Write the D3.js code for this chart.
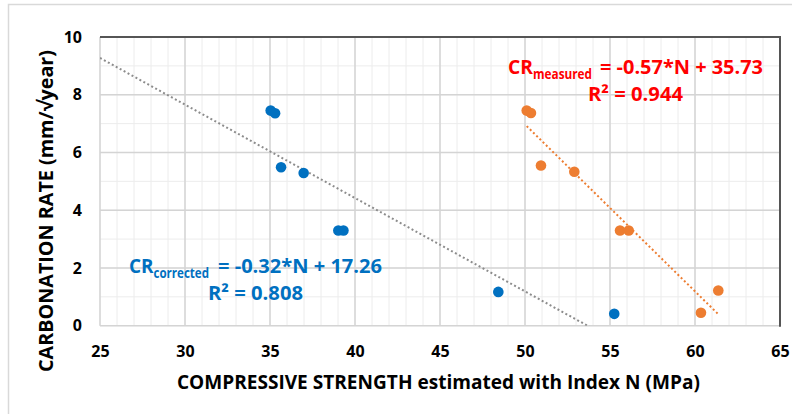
<!DOCTYPE html>
<html><head><meta charset="utf-8">
<script src="https://cdn.jsdelivr.net/npm/d3@7"></script>
<style>body{margin:0;background:#fff}svg{display:block}</style>
</head><body>
<svg id="chart" width="792" height="414"></svg>
<script>
// ---- data ----
const correctedX = [35.04, 35.30, 35.65, 36.98, 39.02, 39.32, 48.43, 55.25];
const correctedY = [7.45, 7.36, 5.49, 5.29, 3.30, 3.30, 1.17, 0.41];
const measuredX  = [50.10, 50.35, 50.94, 52.90, 55.59, 56.10, 60.35, 61.37];
const measuredY  = [7.45, 7.37, 5.55, 5.33, 3.30, 3.30, 0.45, 1.22];
const xTicks = [25, 30, 35, 40, 45, 50, 55, 60, 65];
const yTicks = [0, 2, 4, 6, 8, 10];
const xTitle = "COMPRESSIVE STRENGTH estimated with Index N (MPa)";
const yTitle = "CARBONATION RATE (mm/\u221Ayear)";
const eqCorrected = {sub: "corrected", rest: "= -0.32*N + 17.26", r2: "R\u00B2 = 0.808"};
const eqMeasured  = {sub: "measured",  rest: "= -0.57*N + 35.73", r2: "R\u00B2 = 0.944"};

const FONT = "'Open Sans', sans-serif";
const svg = d3.select("#chart");
const x = d3.scaleLinear().domain([25, 65]).range([100, 780]);
const y = d3.scaleLinear().domain([0, 10]).range([325.7, 37]);

// outer frame
svg.append("rect").attr("x", 8.5).attr("y", 4.5).attr("width", 800).attr("height", 420)
  .attr("fill", "none").attr("stroke", "#d9d9d9").attr("stroke-width", 1.5);

// minor grid
const g = svg.append("g");
g.selectAll(".vminor").data(d3.range(25, 66, 1)).join("line")
  .attr("x1", d => x(d)).attr("x2", d => x(d)).attr("y1", y(0)).attr("y2", y(10))
  .attr("stroke", "#ececec").attr("stroke-width", 1);
g.selectAll(".hminor").data(d3.range(0, 11, 1)).join("line")
  .attr("x1", x(25)).attr("x2", x(65)).attr("y1", d => y(d)).attr("y2", d => y(d))
  .attr("stroke", "#ececec").attr("stroke-width", 1);
// major grid
g.selectAll(".vmajor").data(xTicks).join("line")
  .attr("x1", d => x(d)).attr("x2", d => x(d)).attr("y1", y(0)).attr("y2", y(10))
  .attr("stroke", "#d4d4d4").attr("stroke-width", 1.5);
g.selectAll(".hmajor").data(yTicks).join("line")
  .attr("x1", x(25)).attr("x2", x(65)).attr("y1", d => y(d)).attr("y2", d => y(d))
  .attr("stroke", "#d4d4d4").attr("stroke-width", 1.5);
// dark top/right border
svg.append("line").attr("x1", x(25)).attr("x2", x(65) + 1).attr("y1", y(10)).attr("y2", y(10))
  .attr("stroke", "#555").attr("stroke-width", 2);
svg.append("line").attr("x1", x(65)).attr("x2", x(65)).attr("y1", y(10)).attr("y2", y(0) + 1)
  .attr("stroke", "#555").attr("stroke-width", 2);

// axes (tick labels only)
const xAxis = d3.axisBottom(x).tickValues(xTicks).tickSize(0).tickPadding(20);
svg.append("g").attr("transform", `translate(0,${y(0)})`).call(xAxis)
  .call(a => a.select(".domain").remove())
  .selectAll("text").attr("font-family", FONT).attr("font-weight", "bold")
  .attr("font-size", 16).attr("fill", "#000");
const yAxis = d3.axisLeft(y).tickValues(yTicks).tickSize(0).tickPadding(18);
svg.append("g").attr("transform", `translate(${x(25)},0)`).call(yAxis)
  .call(a => a.select(".domain").remove())
  .selectAll("text").attr("font-family", FONT).attr("font-weight", "bold")
  .attr("font-size", 16).attr("fill", "#000");

// axis titles
svg.append("text").attr("x", 438.4).attr("y", 389.3).attr("text-anchor", "middle")
  .attr("font-family", FONT).attr("font-weight", "bold").attr("font-size", 19)
  .attr("textLength", 523).attr("lengthAdjust", "spacingAndGlyphs")
  .attr("fill", "#000").text(xTitle);
svg.append("text").attr("transform", "translate(52.7,211) rotate(-90)").attr("text-anchor", "middle")
  .attr("font-family", FONT).attr("font-weight", "bold").attr("font-size", 20)
  .attr("textLength", 322).attr("lengthAdjust", "spacingAndGlyphs")
  .attr("fill", "#000").text(yTitle);

// regression from data
function fit(xs, ys) {
  const mx = d3.mean(xs), my = d3.mean(ys);
  const sxy = d3.sum(xs, (v, i) => (v - mx) * (ys[i] - my));
  const sxx = d3.sum(xs, v => (v - mx) * (v - mx));
  const m = sxy / sxx;
  return {m, b: my - m * mx};
}
svg.append("clipPath").attr("id", "plotclip").append("rect")
  .attr("x", x(25)).attr("y", y(10)).attr("width", x(65) - x(25)).attr("height", y(0) - y(10));

const fc = fit(correctedX, correctedY);
const fm = fit(measuredX, measuredY);
const tl = svg.append("g").attr("clip-path", "url(#plotclip)");
tl.append("line")
  .attr("x1", x(25)).attr("y1", y(fc.m * 25 + fc.b))
  .attr("x2", x(65)).attr("y2", y(fc.m * 65 + fc.b))
  .attr("stroke", "#8c8c8c").attr("stroke-width", 2).attr("stroke-dasharray", "2,2.5");
const mx0 = d3.min(measuredX), mx1 = d3.max(measuredX);
tl.append("line")
  .attr("x1", x(mx0)).attr("y1", y(fm.m * mx0 + fm.b))
  .attr("x2", x(mx1)).attr("y2", y(fm.m * mx1 + fm.b))
  .attr("stroke", "#ED7D31").attr("stroke-width", 2).attr("stroke-dasharray", "2,2.5");

// points
svg.append("g").selectAll("circle").data(correctedX.map((v, i) => [v, correctedY[i]])).join("circle")
  .attr("cx", d => x(d[0])).attr("cy", d => y(d[1])).attr("r", 5.3).attr("fill", "#0070C0");
svg.append("g").selectAll("circle").data(measuredX.map((v, i) => [v, measuredY[i]])).join("circle")
  .attr("cx", d => x(d[0])).attr("cy", d => y(d[1])).attr("r", 5.3).attr("fill", "#ED7D31");

// equation labels
function seg(xp, yp, len, size, txt, color) {
  svg.append("text").attr("x", xp).attr("y", yp)
    .attr("font-family", FONT).attr("font-weight", "bold").attr("font-size", size)
    .attr("textLength", len).attr("lengthAdjust", "spacingAndGlyphs")
    .attr("fill", color).text(txt);
}
function eq(p, e, color) {
  seg(p.x0, p.base, p.xs - p.x0, 20, "CR", color);
  seg(p.xs, p.base + 5, p.xe - p.xs, 14, e.sub, color);
  seg(p.xr, p.base, p.x1 - p.xr, 20, e.rest, color);
  seg(p.r0, p.base2, p.r1 - p.r0, 20, e.r2, color);
}
eq({x0: 508, xs: 533, xe: 592, xr: 600, x1: 763, base: 73.5, r0: 588, r1: 683, base2: 101}, eqMeasured, "#FF0000");
eq({x0: 129, xs: 153.5, xe: 209, xr: 218, x1: 382, base: 272.7, r0: 208, r1: 303, base2: 300}, eqCorrected, "#0070C0");
</script>
</body></html>
